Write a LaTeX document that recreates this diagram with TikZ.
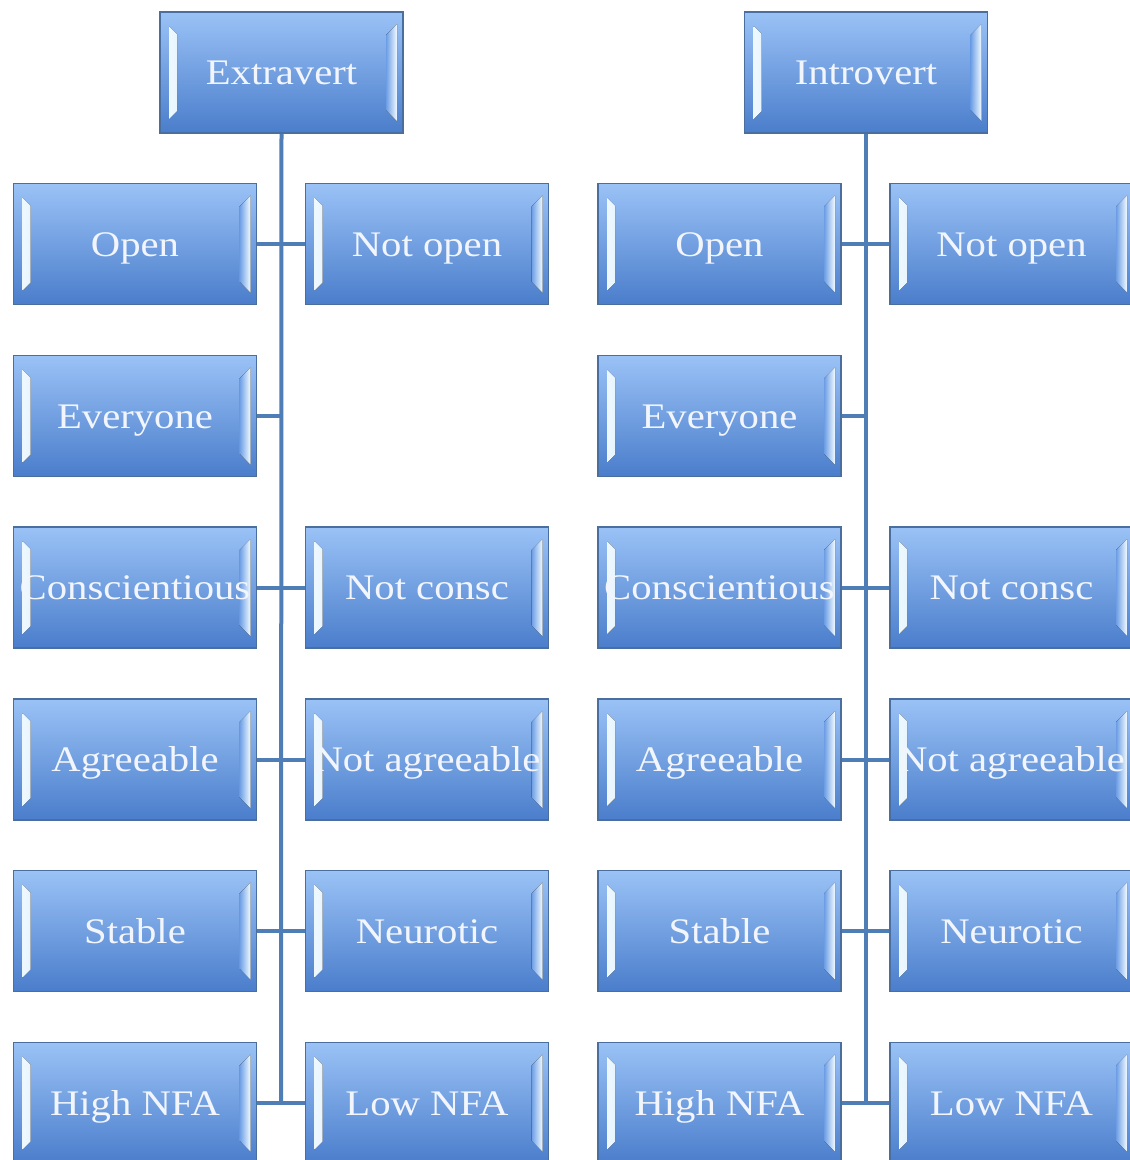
\documentclass[tikz,border=0pt]{standalone}
\usepackage{fontspec}
\setmainfont{Liberation Serif}[FakeStretch=1.13]
\usetikzlibrary{calc}
\definecolor{boxtop}{HTML}{9AC2F6}
\definecolor{boxbot}{HTML}{4A7DCB}
\definecolor{boxmid}{HTML}{6C9DE5}
\definecolor{boxborder}{HTML}{4A6E9E}
\definecolor{bevlight}{HTML}{F2FBFF}
\definecolor{linec}{HTML}{4F7DB5}
\definecolor{textc}{HTML}{F2F6FC}
\tikzset{
  box/.style={draw=boxborder, line width=1.5pt, minimum width=243pt, minimum height=121pt,
    inner sep=0pt, text height=32pt, text depth=8pt,
    top color=boxtop, bottom color=boxbot, text=textc,
    font=\fontsize{36}{40}\selectfont,
    path picture={
      \fill[left color=bevlight, right color=boxmid]
        ($(path picture bounding box.south west)+(9pt,14pt)$) --
        ($(path picture bounding box.north west)+(9pt,-14pt)$) --
        ($(path picture bounding box.north west)+(17pt,-22pt)$) --
        ($(path picture bounding box.south west)+(17pt,22pt)$) -- cycle;
      \fill[right color=bevlight, left color=boxmid]
        ($(path picture bounding box.south east)+(-6pt,12pt)$) --
        ($(path picture bounding box.north east)+(-6pt,-12pt)$) --
        ($(path picture bounding box.north east)+(-17pt,-23pt)$) --
        ($(path picture bounding box.south east)+(-17pt,23pt)$) -- cycle;
    }},
  conn/.style={draw=linec, line width=4pt}
}
\begin{document}
\begin{tikzpicture}[x=1pt,y=-1pt]
\useasboundingbox (0,0) rectangle (1130,1160);
\clip (0,0) rectangle (1130,1160);
% Extravert tree
\node[box] (e) at (281.5,72.5) {Extravert};
\coordinate (et) at (281,1103);
\draw[conn] (e.south) -- (et);
\node[box] (e1l) at (135,244) {Open};
\node[box] (e1r) at (427,244) {Not open};
\node[box] (e2l) at (135,416) {Everyone};
\node[box] (e3l) at (135,587.5) {Conscientious};
\node[box] (e3r) at (427,587.5) {Not consc};
\node[box] (e4l) at (135,759.5) {Agreeable};
\node[box] (e4r) at (427,759.5) {Not agreeable};
\node[box] (e5l) at (135,931) {Stable};
\node[box] (e5r) at (427,931) {Neurotic};
\node[box] (e6l) at (135,1103) {High NFA};
\node[box] (e6r) at (427,1103) {Low NFA};
% Introvert tree
\node[box] (i) at (866,72.5) {Introvert};
\coordinate (it) at (866,1103);
\draw[conn] (i.south) -- (it);
\node[box] (i1l) at (719.5,244) {Open};
\node[box] (i1r) at (1011.5,244) {Not open};
\node[box] (i2l) at (719.5,416) {Everyone};
\node[box] (i3l) at (719.5,587.5) {Conscientious};
\node[box] (i3r) at (1011.5,587.5) {Not consc};
\node[box] (i4l) at (719.5,759.5) {Agreeable};
\node[box] (i4r) at (1011.5,759.5) {Not agreeable};
\node[box] (i5l) at (719.5,931) {Stable};
\node[box] (i5r) at (1011.5,931) {Neurotic};
\node[box] (i6l) at (719.5,1103) {High NFA};
\node[box] (i6r) at (1011.5,1103) {Low NFA};
% connectors
\foreach \r in {1,3,4,5,6}{
  \draw[conn] (e\r l.east) -- (e\r r.west);
  \draw[conn] (i\r l.east) -- (i\r r.west);
}
\draw[conn] (e2l.east) -- (e2l.east -| et);
\draw[conn] (i2l.east) -- (i2l.east -| it);
\end{tikzpicture}
\end{document}
